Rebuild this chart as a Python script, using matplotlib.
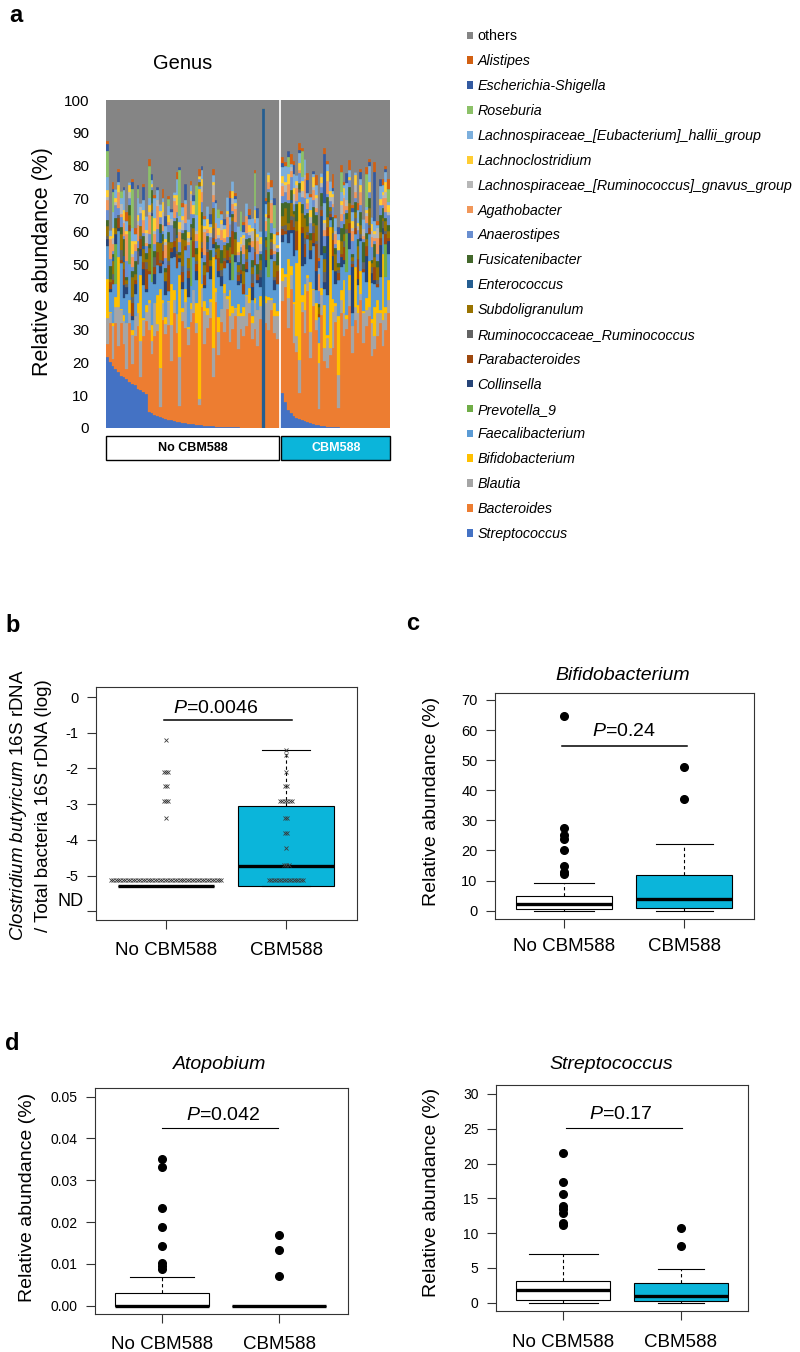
import numpy as np
import matplotlib
matplotlib.use('Agg')
import matplotlib.pyplot as plt
import matplotlib.transforms as mtransforms
from matplotlib.patches import Rectangle, Patch

plt.rcParams['font.family'] = ['Liberation Sans', 'DejaVu Sans']
plt.rcParams['mathtext.fontset'] = 'custom'
plt.rcParams['mathtext.rm'] = 'Liberation Sans'
plt.rcParams['mathtext.it'] = 'Liberation Sans:italic'

# ---------------- panel a: genus composition per patient ----------------
GROUPS = ['No CBM588', 'CBM588']
GENERA = ['Streptococcus', 'Bacteroides', 'Blautia', 'Bifidobacterium', 'Faecalibacterium',
          'Prevotella_9', 'Collinsella', 'Parabacteroides', 'Ruminococcaceae_Ruminococcus',
          'Subdoligranulum', 'Enterococcus', 'Fusicatenibacter', 'Anaerostipes', 'Agathobacter',
          'Lachnospiraceae_[Ruminococcus]_gnavus_group', 'Lachnoclostridium',
          'Lachnospiraceae_[Eubacterium]_hallii_group', 'Roseburia', 'Escherichia-Shigella',
          'Alistipes']
GENUS_COLORS = ['#4472C4', '#ED7D31', '#A5A5A5', '#FFC000', '#5B9BD5', '#70AD47', '#264478',
                '#9E480E', '#636363', '#997300', '#255E91', '#43682B', '#698ED0', '#F1975A',
                '#B7B7B7', '#FFCD33', '#7CAFDD', '#8CC168', '#335AA1', '#D26012']
OTHERS_COLOR = '#858585'

# No CBM588 (62 patients)
strep_no = [21.5, 20, 19, 18, 17, 16, 15.5, 15, 14, 13.5,
            13, 12, 11.5, 11, 10.5, 5, 4.5, 4, 3.6, 3.3,
            3.0, 2.7, 2.5, 2.3, 2.1, 1.9, 1.7, 1.5, 1.4, 1.3,
            1.2, 1.1, 1.0, 0.9, 0.8, 0.7, 0.6, 0.5, 0.5, 0.4,
            0.4, 0.3, 0.3, 0.3, 0.2, 0.2, 0.2, 0.2, 0.1, 0.1,
            0.1, 0.1, 0.1, 0.1, 0.1, 0.1, 0, 0, 0, 0,
            0, 0]
bact_no = [4, 12, 2, 14, 8, 16, 10, 3, 18, 6,
           15, 19, 4, 17, 22, 25, 18, 24, 26, 3,
           30, 26, 29, 18, 33, 27, 5, 31, 29, 24,
           31, 34, 28, 6, 36, 25, 30, 33, 15, 38,
           22, 32, 29, 36, 26, 30, 34, 24, 30, 28,
           31, 35, 27, 30, 25, 33, 0, 32, 30, 36,
           29, 27]
blaut_no = [8, 3, 10, 5, 12, 4, 7, 14, 3, 9,
            6, 4, 11, 5, 3, 8, 4, 10, 2, 12,
            5, 3, 7, 11, 4, 6, 15, 3, 8, 5,
            4, 7, 3, 2, 6, 10, 4, 5, 9, 3,
            7, 4, 12, 3, 8, 5, 2, 10, 4, 6,
            9, 3, 5, 8, 11, 4, 0, 6, 9, 3,
            5, 7]
bifido_no = [12, 0.5, 1, 3, 15, 0.2, 2, 0, 4, 1.5,
             0, 3, 20, 0.5, 2, 1, 5, 0, 9, 24,
             1, 2, 0.3, 12.5, 3, 0, 25, 1, 4, 0.5,
             2, 0, 6, 64, 1, 3, 2, 0.8, 27.5, 1.2,
             4.5, 0, 2.5, 1, 8, 2, 0.5, 3.5, 1, 2.8,
             0.4, 4.7, 2, 1.5, 0, 3, 0, 2.2, 1, 0.6,
             4, 1.8]
faec_no = [10, 6, 12, 4, 8, 14, 5, 9, 11, 3,
           7, 12, 6, 10, 4, 8, 13, 6, 9, 5,
           11, 7, 3, 8, 10, 14, 4, 6, 12, 9,
           5, 10, 7, 1, 8, 4, 11, 6, 3, 9,
           12, 7, 5, 10, 3, 8, 14, 6, 9, 4,
           7, 11, 5, 10, 8, 3, 0, 9, 6, 12,
           4, 8]
prev_no = [0, 0, 0, 12, 0, 0, 0, 0, 10, 0,
           0, 0, 0, 0, 0, 0, 20, 0, 0, 0,
           0, 0, 0, 0, 0, 0, 0, 0, 0, 0,
           14, 0, 0, 0, 0, 0, 0, 0, 0, 0,
           0, 0, 0, 0, 0, 8, 0, 0, 0, 0,
           0, 0, 0, 0, 0, 0, 0, 0, 18, 0,
           0, 0]
colli_no = [2, 1, 0, 3, 1, 0, 4, 2, 0, 1,
            3, 0, 2, 5, 1, 0, 1, 3, 0, 2,
            1, 4, 0, 2, 3, 0, 1, 2, 0, 6,
            1, 0, 3, 0, 2, 1, 0, 4, 1, 0,
            2, 3, 0, 1, 5, 0, 2, 1, 3, 0,
            1, 2, 4, 0, 1, 3, 0, 2, 0, 1,
            3, 0]
parab_no = [0, 2, 1, 0, 3, 1, 5, 0, 2, 4,
            1, 0, 3, 2, 6, 1, 0, 2, 4, 1,
            3, 0, 8, 1, 2, 4, 0, 3, 1, 2,
            0, 5, 2, 0, 1, 3, 6, 0, 2, 1,
            4, 0, 2, 3, 1, 7, 0, 2, 1, 3,
            2, 0, 1, 4, 2, 0, 0, 3, 1, 2,
            0, 4]
rumin_no = [1, 0, 2, 0, 1, 3, 0, 1, 0, 2,
            0, 4, 1, 0, 2, 0, 1, 3, 0, 1,
            2, 0, 1, 0, 4, 1, 0, 2, 0, 1,
            3, 0, 1, 0, 2, 0, 1, 0, 3, 1,
            0, 2, 1, 0, 1, 3, 0, 1, 2, 0,
            1, 0, 3, 1, 0, 2, 0, 1, 0, 2,
            1, 0]
subdo_no = [3, 1, 4, 2, 0, 5, 2, 1, 3, 6,
            2, 0, 3, 4, 1, 7, 2, 0, 3, 5,
            1, 3, 6, 2, 0, 4, 1, 8, 2, 3,
            0, 4, 2, 1, 5, 3, 0, 2, 6, 1,
            3, 2, 4, 0, 3, 1, 5, 2, 0, 4,
            3, 1, 2, 6, 0, 3, 0, 2, 4, 1,
            5, 2]
entero_no = [0, 0, 1, 0, 0, 0, 2, 0, 0, 0,
             0, 0, 0, 1, 0, 0, 0, 0, 0, 3,
             0, 0, 0, 0, 0, 1, 0, 0, 0, 0,
             0, 0, 0, 0, 0, 0, 2, 0, 0, 0,
             0, 0, 0, 0, 0, 0, 0, 1, 0, 0,
             0, 0, 0, 0, 0, 0, 97.5, 0, 0, 0,
             0, 0]
fusi_no = [2, 4, 1, 3, 0, 2, 5, 1, 3, 2,
           4, 1, 0, 3, 2, 1, 4, 2, 0, 3,
           2, 1, 3, 0, 2, 5, 1, 2, 3, 0,
           1, 3, 2, 0, 4, 1, 2, 3, 0, 2,
           1, 4, 0, 2, 3, 1, 2, 0, 4, 2,
           3, 1, 2, 0, 3, 2, 0, 1, 3, 2,
           0, 4]
anaero_no = [3, 2, 1, 4, 2, 3, 1, 5, 2, 1,
             3, 2, 4, 1, 2, 3, 1, 2, 4, 2,
             1, 3, 2, 5, 1, 2, 3, 1, 2, 4,
             3, 1, 2, 1, 3, 2, 1, 4, 2, 1,
             2, 3, 1, 2, 4, 1, 3, 2, 1, 3,
             2, 1, 4, 2, 3, 1, 0, 2, 1, 3,
             2, 1]
agatho_no = [3, 6, 2, 0, 5, 1, 4, 8, 0, 3,
             2, 5, 0, 4, 1, 6, 0, 3, 7, 0,
             2, 4, 1, 0, 5, 2, 3, 0, 6, 1,
             4, 0, 2, 0, 3, 7, 1, 0, 2, 5,
             0, 3, 1, 6, 0, 2, 4, 1, 0, 3,
             5, 0, 2, 1, 4, 0, 0, 3, 2, 6,
             1, 0]
gnavus_no = [1, 0, 2, 1, 0, 3, 1, 0, 2, 1,
             0, 1, 2, 0, 3, 1, 0, 1, 2, 0,
             4, 1, 0, 2, 1, 0, 1, 3, 0, 1,
             2, 0, 1, 0, 2, 1, 0, 1, 3, 0,
             1, 2, 0, 1, 0, 2, 1, 0, 1, 2,
             0, 1, 3, 0, 1, 2, 0, 1, 0, 1,
             2, 0]
lachno_no = [2, 1, 3, 1, 2, 0, 3, 1, 2, 4,
             1, 2, 0, 3, 1, 2, 1, 4, 0, 2,
             3, 1, 2, 0, 1, 3, 2, 1, 0, 2,
             1, 3, 0, 1, 2, 1, 3, 2, 1, 0,
             2, 1, 3, 1, 0, 2, 1, 3, 2, 1,
             0, 2, 1, 3, 1, 2, 0, 1, 2, 0,
             3, 1]
hallii_no = [4, 2, 5, 3, 1, 2, 6, 3, 1, 4,
             2, 5, 1, 3, 4, 2, 1, 6, 3, 2,
             1, 4, 3, 2, 1, 5, 2, 3, 1, 4,
             2, 1, 5, 0, 3, 2, 4, 1, 2, 6,
             3, 2, 1, 4, 2, 3, 1, 5, 2, 1,
             4, 2, 3, 1, 5, 2, 0, 3, 1, 4,
             2, 3]
roseb_no = [8, 0, 6, 0, 0, 2, 0, 0, 0, 12,
            0, 3, 0, 0, 0, 10, 0, 0, 0, 0,
            0, 0, 2, 0, 0, 0, 14, 0, 0, 0,
            0, 0, 9, 0, 0, 0, 0, 0, 0, 0,
            3, 0, 0, 0, 0, 0, 0, 0, 6, 0,
            0, 0, 0, 10, 0, 0, 0, 0, 0, 0,
            7, 0]
esch_no = [2, 0, 1, 0, 3, 0, 1, 0, 0, 2,
           0, 1, 0, 4, 0, 0, 2, 0, 1, 0,
           0, 3, 0, 1, 0, 0, 1, 0, 5, 0,
           0, 2, 0, 0, 1, 0, 0, 3, 0, 1,
           0, 0, 2, 0, 6, 0, 1, 0, 0, 2,
           0, 1, 0, 0, 3, 0, 0, 1, 0, 0,
           2, 0]
alist_no = [1, 0, 2, 0, 1, 0, 0, 3, 0, 1,
            2, 0, 0, 1, 0, 2, 0, 1, 0, 0,
            3, 0, 1, 0, 0, 2, 0, 1, 0, 0,
            1, 0, 0, 2, 0, 1, 0, 0, 2, 0,
            0, 1, 0, 0, 2, 0, 1, 0, 0, 1,
            0, 2, 0, 1, 0, 0, 0, 1, 0, 2,
            0, 1]

# CBM588 (39 patients)
strep_cbm = [10.7, 8.0, 5.5, 4.5, 3.8, 3.2, 2.8, 2.4, 2.0, 1.7,
             1.4, 1.2, 1.0, 0.8, 0.6, 0.5, 0.4, 0.3, 0.3, 0.2,
             0.2, 0.1, 0.1, 0.1, 0.1, 0, 0, 0, 0, 0,
             0, 0, 0, 0, 0, 0, 0, 0, 0]
bact_cbm = [28, 35, 25, 38, 22, 20, 8, 33, 27, 40,
            20, 36, 29, 5, 34, 20, 18, 22, 24, 32,
            6, 35, 28, 30, 37, 23, 33, 29, 39, 26,
            31, 34, 22, 24, 28, 32, 25, 30, 35]
blaut_cbm = [6, 3, 9, 4, 12, 5, 10, 3, 7, 4,
             8, 5, 3, 14, 6, 4, 9, 2, 11, 5,
             10, 4, 7, 3, 5, 8, 4, 6, 2, 9,
             5, 3, 10, 4, 7, 3, 8, 5, 4]
bifido_cbm = [4, 1, 12, 3, 0.5, 22, 48, 2, 8, 1,
              15, 0.3, 5, 6, 2, 13, 1, 37, 4, 0.8,
              18, 3, 10, 1.5, 4.5, 0, 12, 2.5, 7, 0.6,
              3.5, 14, 1.2, 9, 4, 0.9, 20, 2, 6]
faec_cbm = [8, 12, 5, 10, 14, 4, 3, 9, 6, 11,
            7, 13, 4, 8, 10, 5, 12, 2, 9, 6,
            11, 7, 5, 13, 8, 4, 10, 6, 9, 12,
            5, 8, 11, 7, 4, 10, 6, 9, 8]
prev_cbm = [0, 0, 0, 0, 0, 0, 0, 0, 0, 0,
            0, 0, 0, 0, 0, 0, 0, 0, 0, 0,
            0, 0, 0, 12, 0, 0, 0, 0, 0, 0,
            0, 0, 0, 0, 0, 0, 0, 10, 0]
colli_cbm = [2, 0, 4, 1, 8, 0, 0, 10, 2, 0,
             3, 1, 6, 0, 12, 2, 18, 1, 4, 4,
             0, 3, 1, 0, 5, 14, 0, 2, 1, 0,
             8, 0, 3, 1, 0, 10, 2, 0, 4]
parab_cbm = [2, 1, 0, 3, 1, 6, 0, 2, 4, 1,
             0, 3, 8, 1, 2, 0, 3, 1, 5, 0,
             2, 1, 4, 0, 3, 1, 2, 6, 0, 1,
             3, 2, 0, 4, 1, 2, 0, 3, 1]
rumin_cbm = [1, 2, 0, 1, 3, 0, 1, 0, 2, 1,
             0, 2, 1, 0, 1, 3, 0, 1, 2, 0,
             1, 0, 2, 1, 0, 1, 3, 0, 1, 2,
             0, 1, 2, 0, 1, 0, 2, 1, 0]
subdo_cbm = [3, 5, 2, 4, 1, 3, 0, 4, 6, 2,
             3, 1, 5, 2, 0, 4, 3, 1, 2, 5,
             1, 4, 2, 3, 6, 1, 2, 4, 3, 0,
             2, 5, 1, 3, 4, 2, 1, 3, 2]
entero_cbm = [0, 0, 0, 1, 0, 0, 0, 0, 0, 0,
              0, 0, 0, 0, 0, 2, 0, 0, 0, 0,
              0, 0, 0, 0, 0, 0, 0, 0, 0, 0,
              0, 0, 0, 0, 0, 0, 0, 0, 0]
fusi_cbm = [4, 2, 6, 3, 1, 5, 2, 3, 1, 4,
            2, 5, 3, 1, 4, 2, 6, 0, 3, 2,
            1, 4, 3, 2, 5, 1, 3, 2, 4, 6,
            2, 3, 1, 4, 2, 5, 3, 1, 2]
anaero_cbm = [2, 3, 1, 4, 2, 1, 3, 2, 5, 1,
              3, 2, 1, 4, 2, 3, 1, 2, 3, 1,
              4, 2, 3, 1, 2, 4, 1, 3, 2, 1,
              3, 2, 4, 1, 2, 3, 1, 2, 3]
agatho_cbm = [3, 0, 5, 2, 0, 4, 1, 0, 6, 2,
              0, 3, 1, 5, 0, 2, 4, 0, 1, 3,
              0, 2, 5, 1, 0, 3, 2, 0, 4, 1,
              2, 0, 3, 1, 5, 0, 2, 4, 0]
gnavus_cbm = [1, 2, 0, 1, 3, 1, 0, 2, 1, 0,
              2, 1, 3, 0, 1, 2, 0, 1, 2, 1,
              0, 3, 1, 2, 0, 1, 2, 1, 0, 2,
              1, 0, 2, 1, 3, 0, 1, 2, 1]
lachno_cbm = [2, 1, 3, 0, 2, 1, 2, 3, 0, 1,
              2, 3, 1, 0, 2, 1, 3, 2, 1, 0,
              3, 1, 2, 0, 1, 2, 3, 1, 2, 0,
              1, 3, 2, 1, 0, 2, 1, 3, 2]
hallii_cbm = [3, 5, 2, 1, 4, 2, 3, 1, 5, 2,
              4, 1, 3, 2, 1, 5, 2, 3, 1, 4,
              2, 3, 1, 5, 2, 3, 1, 4, 2, 3,
              1, 5, 2, 3, 1, 4, 2, 3, 1]
roseb_cbm = [0, 0, 3, 0, 0, 0, 0, 8, 0, 0,
             0, 0, 0, 0, 0, 0, 0, 0, 0, 0,
             0, 6, 0, 0, 0, 0, 0, 0, 0, 0,
             10, 0, 0, 0, 0, 0, 0, 0, 4]
esch_cbm = [1, 0, 2, 0, 3, 0, 1, 0, 0, 4,
            0, 1, 0, 2, 0, 15, 0, 0, 1, 0,
            2, 0, 0, 3, 0, 1, 0, 0, 2, 0,
            0, 1, 0, 15, 0, 2, 0, 1, 0]
alist_cbm = [2, 1, 0, 3, 1, 0, 2, 1, 0, 2,
             1, 0, 3, 1, 0, 2, 1, 0, 4, 1,
             0, 2, 1, 0, 3, 1, 0, 2, 1, 0,
             2, 1, 0, 3, 1, 0, 2, 1, 3]

# ---------------- panel b: C. butyricum qPCR (log ratio) ----------------
b_levels_no = [-1.2, -2.09, -2.5, -2.92, -3.39, -5.11]
b_counts_no = [1, 3, 2, 3, 1, 46]
b_levels_cbm = [-1.47, -1.62, -2.09, -2.5, -2.92, -3.39, -3.81, -4.23, -4.69, -5.11]
b_counts_cbm = [1, 1, 1, 2, 6, 2, 2, 1, 3, 15]
b_q1 = [-5.29, -5.29]
b_med = [-5.29, -4.73]
b_q3 = [-5.29, -3.05]
b_whislo = [-5.29, -5.29]
b_whishi = [-5.29, -1.47]

# ---------------- panel c: Bifidobacterium ----------------
c_q1 = [0.46, 0.9]
c_med = [2.2, 4.0]
c_q3 = [4.8, 12.0]
c_whislo = [0, 0]
c_whishi = [9.3, 22.3]
c_out_no = [64.7, 27.6, 25.0, 23.9, 20.2, 15.0, 13.0, 12.2]
c_out_cbm = [47.8, 37.0]

# ---------------- panel d: Atopobium / Streptococcus ----------------
atop_q1 = [0, 0]
atop_med = [0, 0]
atop_q3 = [0.0030, 0]
atop_whislo = [0, 0]
atop_whishi = [0.0068, 0]
atop_out_no = [0.0352, 0.0332, 0.0233, 0.0188, 0.0142, 0.0103, 0.0096, 0.0087]
atop_out_cbm = [0.0169, 0.0133, 0.0070]

strep_q1 = [0.39, 0.19]
strep_med = [1.78, 0.91]
strep_q3 = [3.16, 2.78]
strep_whislo = [0, 0]
strep_whishi = [7.0, 4.89]
strep_out_no = [21.56, 17.35, 15.58, 13.95, 13.4, 12.9, 11.4, 11.1]
strep_out_cbm = [10.74, 8.1]

CYAN = '#0BB5DA'
W, H = 800, 1352
fig = plt.figure(figsize=(W / 100, H / 100), dpi=100)


def px_axes(l, t, r, b):
    return fig.add_axes([l / W, 1 - b / H, (r - l) / W, (b - t) / H])


def ftext(x, y, s, **kw):
    return fig.text(x / W, 1 - y / H, s, **kw)


# ---------------- panel a ----------------
ax = px_axes(106, 100, 390, 428)
abund_no = [strep_no, bact_no, blaut_no, bifido_no, faec_no, prev_no, colli_no, parab_no,
            rumin_no, subdo_no, entero_no, fusi_no, anaero_no, agatho_no, gnavus_no,
            lachno_no, hallii_no, roseb_no, esch_no, alist_no]
abund_cbm = [strep_cbm, bact_cbm, blaut_cbm, bifido_cbm, faec_cbm, prev_cbm, colli_cbm,
             parab_cbm, rumin_cbm, subdo_cbm, entero_cbm, fusi_cbm, anaero_cbm, agatho_cbm,
             gnavus_cbm, lachno_cbm, hallii_cbm, roseb_cbm, esch_cbm, alist_cbm]
n_no, n_cbm = len(strep_no), len(strep_cbm)
x_no = np.arange(n_no)
x_cbm = np.arange(n_cbm) + n_no + 1
xs = np.concatenate([x_no, x_cbm])
bottom = np.zeros(len(xs))
handles = []
for name, color, v_no, v_cbm in zip(GENERA, GENUS_COLORS, abund_no, abund_cbm):
    vals = np.concatenate([v_no, v_cbm]).astype(float)
    ax.bar(xs, vals, bottom=bottom, width=1.0, color=color, edgecolor=color, linewidth=0.2)
    bottom += vals
    handles.append(Patch(facecolor=color, edgecolor='none', label=name))
others = np.clip(100 - bottom, 0, None)
ax.bar(xs, others, bottom=bottom, width=1.0, color=OTHERS_COLOR, edgecolor=OTHERS_COLOR, linewidth=0.2)
handles.append(Patch(facecolor=OTHERS_COLOR, edgecolor='none', label='others'))

ax.set_xlim(-0.5, xs[-1] + 0.5)
ax.set_ylim(0, 100)
ax.set_yticks(np.arange(0, 101, 10))
ax.tick_params(axis='y', length=0, labelsize=11, pad=12)
ax.set_xticks([])
for s in ax.spines.values():
    s.set_visible(False)

trans = mtransforms.blended_transform_factory(ax.transData, ax.transAxes)
for (x0, x1), face, tcol, lab in [((-0.5, n_no - 0.5), 'white', 'black', GROUPS[0]),
                                  ((n_no + 0.5, xs[-1] + 0.5), CYAN, 'white', GROUPS[1])]:
    ax.add_patch(Rectangle((x0, -0.0976), x1 - x0, 0.0732, transform=trans, clip_on=False,
                           facecolor=face, edgecolor='black', linewidth=1.0))
    ax.text((x0 + x1) / 2, -0.061, lab, transform=trans, ha='center', va='center',
            fontsize=9, fontweight='bold', color=tcol)

ftext(43, 262, 'Relative abundance (%)', rotation=90, ha='center', va='center', fontsize=15.5)
ftext(183, 69, 'Genus', ha='center', va='baseline', fontsize=14.5)

leg = fig.legend(handles[::-1], [h.get_label() for h in handles[::-1]], loc='upper left',
                 bbox_to_anchor=(466.7 / W, 1 - 29.5 / H), frameon=False, fontsize=10.3,
                 handlelength=0.44, handleheight=0.44, handletextpad=0.3, labelspacing=0.76,
                 borderpad=0, borderaxespad=0)
for t in leg.get_texts()[1:]:
    t.set_fontstyle('italic')


# ---------------- box plot helpers ----------------
def make_stats(q1, med, q3, wlo, whi, fliers):
    return [dict(q1=q1[i], med=med[i], q3=q3[i], whislo=wlo[i], whishi=whi[i], fliers=fliers[i])
            for i in range(2)]


def draw_box(ax, stats, capw):
    bp = ax.bxp(stats, positions=[1, 2], widths=0.8, capwidths=capw, patch_artist=True,
                boxprops=dict(linewidth=0.8, edgecolor='black'),
                medianprops=dict(color='black', linewidth=2.4, solid_capstyle='butt'),
                whiskerprops=dict(linestyle=(0, (3, 2.5)), linewidth=0.8, color='black'),
                capprops=dict(linewidth=0.8, color='black'),
                flierprops=dict(marker='o', markerfacecolor='black', markeredgecolor='black',
                                markersize=5.5, linestyle='none'))
    for patch, face in zip(bp['boxes'], ['white', CYAN]):
        patch.set_facecolor(face)
    return bp


def style_box(ax, xlim, ylim, yticks, ylabels, ysize, xpad):
    ax.set_xlim(*xlim)
    ax.set_ylim(*ylim)
    ax.set_xticks([1, 2])
    ax.set_xticklabels(GROUPS, fontsize=13.5)
    ax.set_yticks(yticks)
    ax.set_yticklabels(ylabels, fontsize=ysize)
    ax.tick_params(direction='out', length=6.5, width=0.8, color='#333333')
    ax.tick_params(axis='y', pad=6)
    ax.tick_params(axis='x', pad=xpad)
    for s in ax.spines.values():
        s.set_linewidth(0.8)
        s.set_color('#333333')


def p_label(ax, text, x, y, line_y, x0, x1, lw):
    ax.text(x, y, text, ha='center', va='baseline', fontsize=14)
    ax.plot([x0, x1], [line_y, line_y], color='black', linewidth=lw)


# ---------------- panel b ----------------
axb = px_axes(96, 687, 357, 920)
draw_box(axb, make_stats(b_q1, b_med, b_q3, b_whislo, b_whishi, [[], []]), [0.4, 0.4])
for center, levels, counts in [(1, b_levels_no, b_counts_no), (2, b_levels_cbm, b_counts_cbm)]:
    px, py = [], []
    for v, n in zip(levels, counts):
        offs = (np.arange(n) - (n - 1) / 2) * 0.0205
        px.extend(center + offs)
        py.extend([v] * n)
    axb.plot(px, py, linestyle='none', marker='x', markersize=2.6, markeredgewidth=0.6,
             color='#3a3a3a', zorder=5)
style_box(axb, (0.417, 2.59), (-6.24, 0.28), [0, -1, -2, -3, -4, -5, -6],
          ['0', '-1', '-2', '-3', '-4', '-5', ''], 10.5, 9.5)
p_label(axb, r'$\it{P}$=0.0046', 1.41, -0.45, -0.64, 0.983, 2.05, 1.1)
ftext(70.5, 901, 'ND', ha='center', va='center', fontsize=13)
ftext(19, 805, r'$\it{Clostridium}$ $\it{butyricum}$ 16S rDNA', rotation=90, ha='center',
      va='center', fontsize=13.5)
ftext(44, 806, '/ Total bacteria 16S rDNA (log)', rotation=90, ha='center', va='center',
      fontsize=13.5)

# ---------------- panel c ----------------
axc = px_axes(495, 692.7, 754, 919)
draw_box(axc, make_stats(c_q1, c_med, c_q3, c_whislo, c_whishi, [c_out_no, c_out_cbm]),
         [0.5, 0.48])
style_box(axc, (0.4225, 2.58), (-2.76, 72.4), np.arange(0, 71, 10),
          [str(v) for v in range(0, 71, 10)], 10.5, 7)
p_label(axc, r'$\it{P}$=0.24', 1.5, 58.0, 54.7, 0.98, 2.02, 1.1)
ftext(623, 680, 'Bifidobacterium', ha='center', va='baseline', fontsize=14, fontstyle='italic')
ftext(432, 801, 'Relative abundance (%)', rotation=90, ha='center', va='center', fontsize=14)

# ---------------- panel d (left) ----------------
axd1 = px_axes(95, 1088.3, 347.7, 1314)
draw_box(axd1, make_stats(atop_q1, atop_med, atop_q3, atop_whislo, atop_whishi,
                          [atop_out_no, atop_out_cbm]), [0.55, 0.4])
style_box(axd1, (0.425, 2.585), (-0.00199, 0.0520), np.arange(0, 0.051, 0.01),
          ['%.2f' % v for v in np.arange(0, 0.051, 0.01)], 10, 9)
p_label(axd1, r'$\it{P}$=0.042', 1.516, 0.04443, 0.0425, 0.995, 1.99, 0.8)
ftext(220, 1069, 'Atopobium', ha='center', va='baseline', fontsize=14, fontstyle='italic')
ftext(28, 1197, 'Relative abundance (%)', rotation=90, ha='center', va='center', fontsize=14)

# ---------------- panel d (right) ----------------
axd2 = px_axes(496, 1085.3, 748.3, 1311)
draw_box(axd2, make_stats(strep_q1, strep_med, strep_q3, strep_whislo, strep_whishi,
                          [strep_out_no, strep_out_cbm]), [0.59, 0.39])
style_box(axd2, (0.428, 2.572), (-1.19, 31.25), np.arange(0, 31, 5),
          [str(v) for v in range(0, 31, 5)], 10, 10)
p_label(axd2, r'$\it{P}$=0.17', 1.49, 26.36, 25.1, 1.02, 2.005, 0.8)
ftext(611, 1069, 'Streptococcus', ha='center', va='baseline', fontsize=14, fontstyle='italic')
ftext(432, 1192, 'Relative abundance (%)', rotation=90, ha='center', va='center', fontsize=14)

# panel letters
for x, y, s in [(16, 22, 'a'), (12.5, 632, 'b'), (413, 630, 'c'), (12.5, 1050, 'd')]:
    ftext(x, y, s, ha='center', va='baseline', fontsize=17, fontweight='bold')

fig.savefig('out.png', dpi=100)
